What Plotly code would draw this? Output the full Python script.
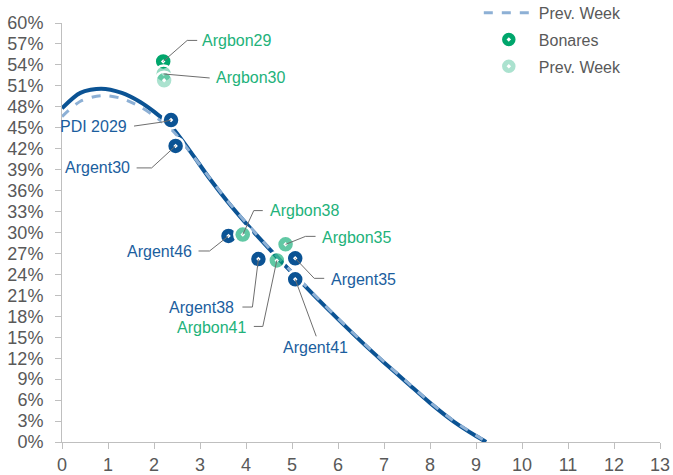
import plotly.graph_objects as go

# ---- data -------------------------------------------------------------
# fitted yield curves: modified duration (years) vs. yield (%)
curve_x = [0.0, 0.4, 0.85, 1.3, 1.7, 2.0, 2.4, 2.8, 3.2, 3.6, 4.0, 4.4,
           4.8, 5.2, 5.6, 6.0, 6.6, 7.0, 7.5, 8.0, 8.5, 9.0, 9.22]
curve_now = [47.8, 50.0, 50.6, 50.0, 48.7, 47.3, 45.0, 41.5, 37.8, 34.4, 31.3, 28.4,
             25.6, 22.9, 20.2, 17.6, 13.8, 11.4, 8.5, 5.6, 3.0, 0.85, 0.0]
curve_prev = [46.6, 48.8, 49.6, 49.2, 48.0, 46.7, 44.6, 41.4, 37.9, 34.5, 31.4, 28.5,
              25.7, 23.0, 20.3, 17.7, 13.9, 11.5, 8.6, 5.7, 3.1, 0.95, 0.05]

# Globales (USD, NY law) and PDI
glob_names = ["PDI 2029", "Argent30", "Argent46", "Argent38", "Argent35", "Argent41"]
glob_dur = [2.37, 2.47, 3.62, 4.27, 5.07, 5.07]
glob_yield = [46.1, 42.4, 29.5, 26.2, 26.3, 23.3]

# Bonares (local law)
bon_names = ["Argbon29", "Argbon30", "Argbon38", "Argbon35", "Argbon41"]
bon_dur = [2.20, 2.21, 3.93, 4.86, 4.67]
bon_yield = [54.5, 52.7, 29.7, 28.3, 26.0]

# Bonares, previous week
bon_prev_dur = [2.22]
bon_prev_yield = [51.8]

x_ticks = list(range(0, 14))
y_ticks = list(range(0, 61, 3))

# ---- styling ----------------------------------------------------------
BLUE = "#0B5394"
BLUE_TXT = "#1B5E9E"
LIGHT_BLUE = "#8DB0D5"
GREEN = "#00A66C"
GREEN_TXT = "#22B27A"
GREY_TXT = "#595959"
AXIS = "#BFBFBF"
FONT = "Liberation Sans, Arial, sans-serif"

W, H = 673, 475
M = dict(l=62, r=13, t=23, b=33, autoexpand=False)
X_RANGE = [0, 13]
Y_RANGE = [0, 60]
PX_X = (W - M["l"] - M["r"]) / (X_RANGE[1] - X_RANGE[0])
PX_Y = (H - M["t"] - M["b"]) / (Y_RANGE[1] - Y_RANGE[0])

bon_colors = [GREEN, "rgba(0,166,108,0.42)", "rgba(0,166,108,0.62)",
              "rgba(0,166,108,0.62)", "rgba(0,166,108,0.62)"]

# label placement: leader elbow, leader end, text position (pixel offsets
# from the bond's marker; +y goes down), and text anchor
label_layout = {
    "Argbon29": ((24, -21), (34, -21), (37, -21), "left"),
    "Argbon30": ((27, 2), (46, 4), (50, 4), "left"),
    "PDI 2029": ((-9, 2), (-37, 6), (-42, 6), "right"),
    "Argent30": ((-24, 22), (-39, 22), (-44, 22), "right"),
    "Argbon38": ((11, -24), (20, -24), (25, -24), "left"),
    "Argent46": ((-19, 15), (-30, 15), (-35, 16), "right"),
    "Argbon35": ((20, -8), (30, -8), (34, -7), "left"),
    "Argent35": ((19, 20), (29, 20), (34, 21), "left"),
    "Argent38": ((-6, 48), (-16, 48), (-22, 48), "right"),
    "Argbon41": ((-14, 66), (-23, 66), (-29, 67), "right"),
    "Argent41": ((20, 56), (21, 57), (20, 68), "center"),
}


def shift(x, y, off):
    return x + off[0] / PX_X, y - off[1] / PX_Y


fig = go.Figure()

fig.add_trace(go.Scatter(
    x=curve_x, y=curve_now, mode="lines", name="Curva",
    line=dict(color=BLUE, width=4, shape="spline", smoothing=0.8),
    showlegend=False, hoverinfo="skip"))

fig.add_trace(go.Scatter(
    x=curve_x, y=curve_prev, mode="lines", name="Prev. Week",
    line=dict(color=LIGHT_BLUE, width=3, dash="dash", shape="spline", smoothing=0.8),
    legendgroup="a"))

marker_line = dict(color="white", width=2.5)

fig.add_trace(go.Scatter(
    x=glob_dur, y=glob_yield, mode="markers", name="Globales",
    text=glob_names,
    marker=dict(symbol="circle-dot", size=17, color=BLUE, line=marker_line),
    showlegend=False))

fig.add_trace(go.Scatter(
    x=bon_dur, y=bon_yield, mode="markers", name="Bonares",
    text=bon_names,
    marker=dict(symbol="circle-dot", size=17, color=bon_colors, line=marker_line),
    legendgroup="b"))

fig.add_trace(go.Scatter(
    x=bon_prev_dur, y=bon_prev_yield, mode="markers", name="Prev. Week",
    marker=dict(symbol="circle-dot", size=17, color="rgba(0,166,108,0.33)",
                line=marker_line),
    legendgroup="c"))

# leaders and labels
points = {n: (x, y, BLUE_TXT) for n, x, y in zip(glob_names, glob_dur, glob_yield)}
points.update({n: (x, y, GREEN_TXT) for n, x, y in zip(bon_names, bon_dur, bon_yield)})

for name, (elbow, end, txt, anchor) in label_layout.items():
    px, py, color = points[name]
    ex, ey = shift(px, py, elbow)
    fx, fy = shift(px, py, end)
    tx, ty = shift(px, py, txt)
    fig.add_trace(go.Scatter(
        x=[px, ex, fx], y=[py, ey, fy], mode="lines",
        line=dict(color="#6E6E6E", width=1),
        showlegend=False, hoverinfo="skip", cliponaxis=False))
    fig.add_annotation(
        x=tx, y=ty, text=name, showarrow=False,
        xanchor=anchor, yanchor="middle",
        font=dict(family=FONT, size=16, color=color))

fig.update_layout(
    width=W, height=H, margin=M,
    paper_bgcolor="white", plot_bgcolor="white",
    font=dict(family=FONT, color=GREY_TXT),
    legend=dict(
        x=0.697, y=1.065, xanchor="left", yanchor="top",
        font=dict(family=FONT, size=16, color=GREY_TXT),
        bgcolor="rgba(0,0,0,0)", tracegroupgap=3, itemwidth=50),
)

fig.update_xaxes(
    range=X_RANGE, tickvals=x_ticks, showgrid=False, zeroline=False,
    showline=True, linecolor=AXIS, linewidth=1, automargin=False,
    ticks="outside", ticklen=6, tickcolor=AXIS,
    tickfont=dict(family=FONT, size=18, color=GREY_TXT))

fig.update_yaxes(
    range=Y_RANGE, tickvals=y_ticks, ticktext=[f"{v}%" for v in y_ticks],
    showgrid=False, zeroline=False,
    showline=True, linecolor=AXIS, linewidth=1, automargin=False,
    ticks="outside", ticklen=6, tickcolor=AXIS, ticklabelstandoff=8,
    tickfont=dict(family=FONT, size=18, color=GREY_TXT))

fig.write_html("out.html")
